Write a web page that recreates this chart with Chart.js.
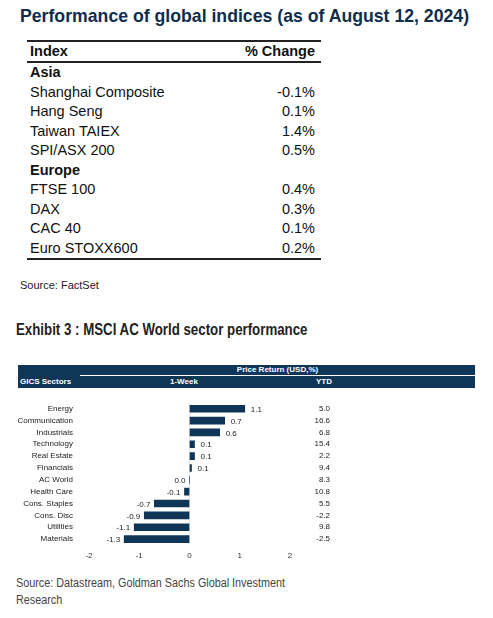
<!DOCTYPE html>
<html>
<head>
<meta charset="utf-8">
<script src="https://cdn.jsdelivr.net/npm/chart.js@4"></script>
<style>
    body { margin: 0; width: 493px; height: 618px; position: relative; background: #fff; font-family: "Liberation Sans", Arial, sans-serif; }
    .abs { position: absolute; }
    #title { left: 20px; top: 5px; font-size: 19px; font-weight: bold; color: #0f2d4d; white-space: nowrap; transform: scaleX(0.93); transform-origin: left top; }
    table { position: absolute; left: 27px; top: 40px; width: 294px; border-collapse: collapse; font-size: 14.5px; color: #111; }
    td { padding: 0 3px; height: 19.5px; line-height: 19px; }
    td.r { text-align: right; padding-right: 6px; }
    thead td { font-weight: bold; border-top: 2px solid #222; border-bottom: 2px solid #222; height: 19px; }
    tbody tr.last td { border-bottom: 2px solid #222; }
    .grp td { font-weight: bold; }
    #src1 { left: 20px; top: 279px; font-size: 11px; color: #222; }
    #ex { left: 16px; top: 321px; font-size: 16px; font-weight: bold; color: #222; white-space: nowrap; transform: scaleX(0.83); transform-origin: left top; }
    .hdr { background: #0f3557; color: #fff; font-size: 8px; font-weight: bold; }
    #src2 { left: 16px; top: 575px; font-size: 12px; color: #444; line-height: 17px; white-space: nowrap; transform: scaleX(0.9); transform-origin: left top; }
</style>
</head>
<body>
<div id="title" class="abs">Performance of global indices (as of August 12, 2024)</div>
<table id="idx">
    <thead><tr><td>Index</td><td class="r">% Change</td></tr></thead>
    <tbody></tbody>
</table>
<div id="src1" class="abs">Source: FactSet</div>
<div id="ex" class="abs">Exhibit 3 : MSCI AC World sector performance</div>

<div class="abs hdr" style="left:18px;top:365px;width:457px;height:11px;"></div>
<div class="abs hdr" style="left:80px;top:365px;width:395px;height:10px;text-align:center;line-height:10px;border-bottom:1px solid #fff;">Price Return (USD,%)</div>
<div class="abs hdr" style="left:18px;top:376px;width:457px;height:12px;line-height:12px;">
    <span class="abs" style="left:2px;">GICS Sectors</span>
    <span class="abs" style="left:152px;">1-Week</span>
    <span class="abs" style="left:298px;">YTD</span>
</div>
<div class="abs" style="left:18px;top:390px;width:330px;height:172px;"><canvas id="sectorChart"></canvas></div>

<div id="src2" class="abs">Source: Datastream, Goldman Sachs Global Investment<br>Research</div>

<script>
// table data
const indexNames = ['Asia', 'Shanghai Composite', 'Hang Seng', 'Taiwan TAIEX', 'SPI/ASX 200', 'Europe', 'FTSE 100', 'DAX', 'CAC 40', 'Euro STOXX600'];
const indexChanges = [null, '-0.1%', '0.1%', '1.4%', '0.5%', null, '0.4%', '0.3%', '0.1%', '0.2%'];

// chart data
const sectors = ['Energy', 'Communication', 'Industrials', 'Technology', 'Real Estate', 'Financials', 'AC World', 'Health Care', 'Cons. Staples', 'Cons. Disc', 'Utilities', 'Materials'];
const weekReturn = [1.1, 0.7, 0.6, 0.1, 0.1, 0.04, 0.0, -0.1, -0.7, -0.9, -1.1, -1.3];
const weekLabels = ['1.1', '0.7', '0.6', '0.1', '0.1', '0.1', '0.0', '-0.1', '-0.7', '-0.9', '-1.1', '-1.3'];
const ytdReturn = ['5.0', '16.6', '6.8', '15.4', '2.2', '9.4', '8.3', '10.8', '5.5', '-2.2', '9.8', '-2.5'];

const tbody = document.querySelector('#idx tbody');
indexNames.forEach((name, i) => {
    const row = document.createElement('tr');
    if (indexChanges[i] === null) row.className = 'grp';
    if (i === indexNames.length - 1) row.classList.add('last');
    row.innerHTML = `<td>${name}</td><td class="r">${indexChanges[i] || ''}</td>`;
    tbody.appendChild(row);
});

const textPlugin = {
    id: 'textPlugin',
    afterDatasetsDraw(chart) {
        const ctx = chart.ctx;
        const meta = chart.getDatasetMeta(0);
        ctx.save();
        ctx.font = '8px "Liberation Sans", Arial, sans-serif';
        ctx.fillStyle = '#222';
        ctx.textBaseline = 'middle';
        meta.data.forEach((bar, i) => {
            const v = weekReturn[i];
            if (v > 0) {
                ctx.textAlign = 'left';
                ctx.fillText(weekLabels[i], bar.x + 6, bar.y + 1);
            } else {
                ctx.textAlign = 'right';
                ctx.fillText(weekLabels[i], bar.x - 4, bar.y + 1);
            }
            ctx.textAlign = 'right';
            ctx.fillText(ytdReturn[i], 312, bar.y);
        });
        ctx.restore();
    }
};

new Chart(document.getElementById('sectorChart'), {
    type: 'bar',
    data: {
        labels: sectors,
        datasets: [{ data: weekReturn, backgroundColor: '#0f3557', barThickness: 7 }]
    },
    options: {
        indexAxis: 'y',
        responsive: true,
        maintainAspectRatio: false,
        animation: false,
        layout: { padding: { top: 2, right: 58, left: 0, bottom: 0 } },
        plugins: { legend: { display: false }, tooltip: { enabled: false } },
        scales: {
            x: {
                min: -2, max: 2,
                grid: {
                    drawTicks: false,
                    color: ctx => ctx.tick && ctx.tick.value === 0 ? '#e4e4e4' : 'transparent'
                },
                border: { display: false },
                ticks: { stepSize: 1, padding: 6, color: '#333', font: { size: 8 } },
                afterFit: s => { s.height = 17; }
            },
            y: {
                grid: { display: false },
                border: { display: false },
                ticks: { autoSkip: false, padding: 8, color: '#222', font: { size: 8 } },
                afterFit: s => { s.width = 71; }
            }
        }
    },
    plugins: [textPlugin]
});
</script>
</body>
</html>
